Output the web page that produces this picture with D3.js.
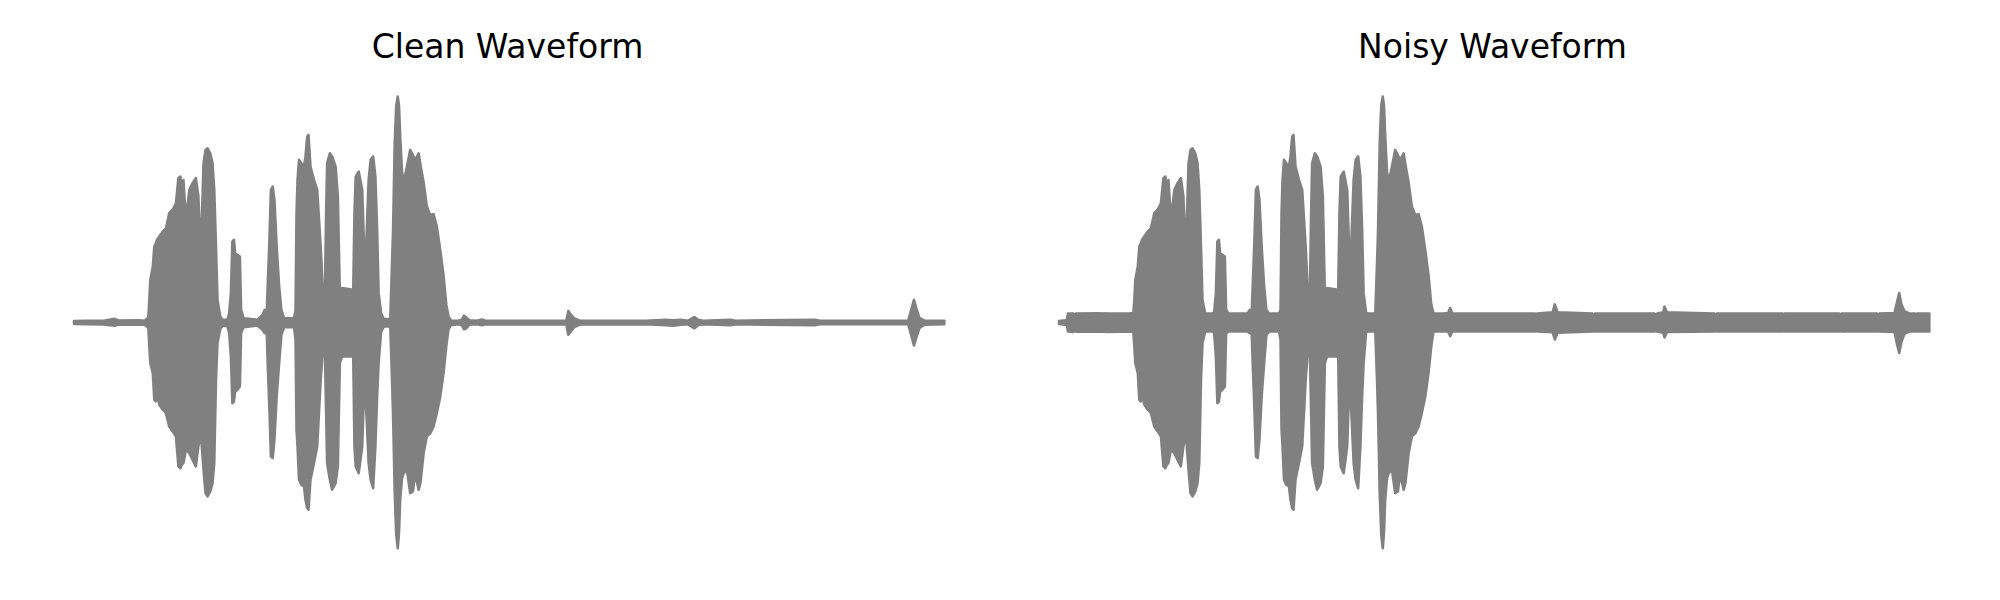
<!DOCTYPE html>
<html>
<head>
<meta charset="utf-8">
<script src="https://cdn.jsdelivr.net/npm/d3@7"></script>
<style>
  body { margin: 0; background: #ffffff; }
  svg { display: block; }
</style>
</head>
<body>
<svg id="chart" width="2000" height="600"></svg>
<script>
// ---------------- data ----------------
const titles = ["Clean Waveform", "Noisy Waveform"];

// envelope of the clean signal: time (s), upper and lower amplitude (normalised)
const cleanTime = [
  0.000, 0.050, 0.120, 0.163, 0.180, 0.262, 0.285,
  0.299, 0.303, 0.307, 0.317, 0.323, 0.329, 0.334, 0.343, 0.357, 0.370, 0.383, 0.397, 0.410,
  0.420, 0.428, 0.433, 0.440, 0.450, 0.464, 0.477, 0.490, 0.500, 0.510, 0.521, 0.529, 0.537,
  0.548, 0.557, 0.564, 0.571, 0.577, 0.588, 0.597, 0.617,
  0.624, 0.631, 0.637, 0.643, 0.648, 0.657, 0.667, 0.672, 0.682, 0.738, 0.758, 0.767, 0.775,
  0.780, 0.786, 0.792, 0.799, 0.806, 0.815, 0.825, 0.834, 0.845, 0.885,
  0.891, 0.895, 0.899, 0.905, 0.914, 0.925, 0.931, 0.938, 0.943, 0.951, 0.965, 0.978, 0.992,
  1.001, 1.009, 1.014, 1.018, 1.029, 1.038, 1.052, 1.061, 1.069, 1.078, 1.123,
  1.128, 1.133, 1.145, 1.159, 1.168, 1.176, 1.185, 1.193, 1.203, 1.212, 1.219, 1.225, 1.235,
  1.246, 1.272,
  1.279, 1.283, 1.290, 1.296, 1.302, 1.307, 1.312, 1.319, 1.326, 1.339, 1.352, 1.363, 1.372,
  1.386, 1.393, 1.406, 1.419, 1.433, 1.446, 1.459, 1.473, 1.486, 1.497, 1.506, 1.516,
  1.545, 1.560, 1.568, 1.575, 1.590, 1.620, 1.640, 1.655, 1.800,
  1.980, 1.988, 1.998, 2.012, 2.035, 2.300, 2.380, 2.410, 2.440, 2.470, 2.495, 2.510, 2.530,
  2.640, 2.660, 2.980, 3.000, 3.355, 3.368, 3.378, 3.388, 3.400, 3.420, 3.500
];
const cleanUpper = [
  0.006, 0.008, 0.008, 0.016, 0.009, 0.010, 0.008,
  0.024, 0.100, 0.189, 0.248, 0.336, 0.351, 0.366, 0.381, 0.403, 0.417, 0.484, 0.499, 0.528,
  0.639, 0.646, 0.572, 0.631, 0.454, 0.587, 0.617, 0.639, 0.560, 0.300, 0.705, 0.764, 0.771,
  0.749, 0.705, 0.587, 0.336, 0.100, 0.027, 0.012, 0.012,
  0.041, 0.130, 0.358, 0.366, 0.307, 0.299, 0.292, 0.056, 0.019, 0.012, 0.034, 0.056, 0.041,
  0.189, 0.366, 0.587, 0.602, 0.543, 0.336, 0.159, 0.056, 0.019, 0.019,
  0.056, 0.484, 0.631, 0.720, 0.705, 0.690, 0.735, 0.823, 0.830, 0.690, 0.631, 0.587, 0.336,
  0.130, 0.130, 0.484, 0.705, 0.749, 0.735, 0.690, 0.558, 0.130, 0.152, 0.145,
  0.484, 0.646, 0.668, 0.587, 0.277, 0.366, 0.631, 0.720, 0.735, 0.646, 0.410, 0.130, 0.041,
  0.015, 0.015,
  0.263, 0.400, 0.800, 0.960, 1.000, 0.960, 0.820, 0.670, 0.620, 0.690, 0.764, 0.740, 0.720,
  0.749, 0.700, 0.620, 0.513, 0.475, 0.480, 0.425, 0.320, 0.210, 0.080, 0.027, 0.009,
  0.008, 0.012, 0.030, 0.025, 0.010, 0.008, 0.013, 0.008, 0.008,
  0.008, 0.051, 0.035, 0.018, 0.008, 0.008, 0.012, 0.010, 0.012, 0.008, 0.024, 0.012, 0.008,
  0.012, 0.008, 0.012, 0.008, 0.008, 0.060, 0.100, 0.060, 0.020, 0.008, 0.008
];
const cleanLower = [
  -0.006, -0.008, -0.009, -0.014, -0.009, -0.010, -0.010,
  -0.025, -0.106, -0.180, -0.224, -0.342, -0.349, -0.313, -0.364, -0.386, -0.401, -0.460, -0.482, -0.504,
  -0.637, -0.645, -0.630, -0.622, -0.563, -0.578, -0.608, -0.637, -0.549, -0.490, -0.652, -0.755, -0.770,
  -0.748, -0.711, -0.622, -0.254, -0.091, -0.029, -0.015, -0.015,
  -0.047, -0.150, -0.357, -0.350, -0.305, -0.298, -0.283, -0.047, -0.021, -0.013, -0.032, -0.047, -0.040,
  -0.209, -0.386, -0.593, -0.600, -0.519, -0.327, -0.180, -0.055, -0.021, -0.021,
  -0.077, -0.475, -0.549, -0.696, -0.718, -0.726, -0.785, -0.822, -0.829, -0.696, -0.622, -0.549, -0.254,
  -0.121, -0.121, -0.401, -0.622, -0.696, -0.740, -0.711, -0.637, -0.180, -0.150, -0.150,
  -0.549, -0.637, -0.667, -0.549, -0.254, -0.401, -0.622, -0.696, -0.733, -0.549, -0.327, -0.180, -0.040,
  -0.018, -0.018,
  -0.254, -0.400, -0.760, -0.940, -0.999, -0.930, -0.780, -0.690, -0.667, -0.652, -0.755, -0.748, -0.667,
  -0.740, -0.711, -0.578, -0.504, -0.490, -0.460, -0.401, -0.327, -0.224, -0.106, -0.029, -0.012,
  -0.008, -0.012, -0.030, -0.028, -0.010, -0.008, -0.012, -0.008, -0.009,
  -0.008, -0.054, -0.040, -0.020, -0.009, -0.008, -0.012, -0.014, -0.010, -0.008, -0.026, -0.012, -0.008,
  -0.012, -0.008, -0.012, -0.008, -0.008, -0.060, -0.102, -0.065, -0.025, -0.010, -0.008
];

// envelope of the noisy signal
const noisyTime = [
  0.000, 0.025, 0.032, 0.036, 0.058, 0.062, 0.068, 0.150, 0.200, 0.285,
  0.299, 0.303, 0.307, 0.317, 0.323, 0.329, 0.334, 0.343, 0.357, 0.370, 0.383, 0.397, 0.410,
  0.420, 0.428, 0.433, 0.440, 0.450, 0.464, 0.477, 0.490, 0.500, 0.510, 0.521, 0.529, 0.537,
  0.548, 0.557, 0.564, 0.571, 0.577, 0.588, 0.597, 0.617,
  0.624, 0.631, 0.637, 0.643, 0.648, 0.657, 0.667, 0.672, 0.682, 0.738, 0.758, 0.767, 0.775,
  0.780, 0.786, 0.792, 0.799, 0.806, 0.815, 0.825, 0.834, 0.845, 0.885,
  0.891, 0.895, 0.899, 0.905, 0.914, 0.925, 0.931, 0.938, 0.943, 0.951, 0.965, 0.978, 0.992,
  1.001, 1.009, 1.014, 1.018, 1.029, 1.038, 1.052, 1.061, 1.069, 1.078, 1.123,
  1.128, 1.133, 1.145, 1.159, 1.168, 1.176, 1.185, 1.193, 1.203, 1.212, 1.219, 1.225, 1.235,
  1.246, 1.272,
  1.279, 1.283, 1.290, 1.296, 1.302, 1.307, 1.312, 1.319, 1.326, 1.339, 1.352, 1.363, 1.372,
  1.386, 1.393, 1.406, 1.419, 1.433, 1.446, 1.459, 1.473, 1.486, 1.497, 1.506, 1.516,
  1.545, 1.565, 1.573, 1.582, 1.800, 1.915, 1.918, 1.922,
  1.985, 1.994, 2.005, 2.145, 2.150, 2.155, 2.395, 2.400, 2.405, 2.430, 2.435, 2.445,
  2.636, 2.640, 2.645, 2.910, 2.913, 2.918, 3.138, 3.142, 3.147, 3.290, 3.294, 3.299,
  3.360, 3.370, 3.379, 3.388, 3.400, 3.420, 3.443, 3.447, 3.451, 3.500
];
const noisyUpper = [
  0.006, 0.010, 0.012, 0.040, 0.040, 0.025, 0.040, 0.041, 0.040, 0.041,
  0.042, 0.100, 0.189, 0.248, 0.336, 0.351, 0.366, 0.381, 0.403, 0.417, 0.484, 0.499, 0.528,
  0.639, 0.646, 0.572, 0.631, 0.454, 0.587, 0.617, 0.639, 0.560, 0.300, 0.705, 0.764, 0.771,
  0.749, 0.705, 0.587, 0.336, 0.100, 0.040, 0.040, 0.040,
  0.045, 0.130, 0.358, 0.366, 0.307, 0.299, 0.292, 0.056, 0.040, 0.040, 0.040, 0.056, 0.045,
  0.189, 0.366, 0.587, 0.602, 0.543, 0.336, 0.159, 0.056, 0.040, 0.040,
  0.056, 0.484, 0.631, 0.720, 0.705, 0.690, 0.735, 0.823, 0.830, 0.690, 0.631, 0.587, 0.336,
  0.130, 0.130, 0.484, 0.705, 0.749, 0.735, 0.690, 0.558, 0.130, 0.152, 0.145,
  0.484, 0.646, 0.668, 0.587, 0.277, 0.366, 0.631, 0.720, 0.735, 0.646, 0.410, 0.130, 0.042,
  0.040, 0.040,
  0.263, 0.400, 0.800, 0.960, 1.000, 0.960, 0.820, 0.670, 0.620, 0.690, 0.764, 0.740, 0.720,
  0.749, 0.700, 0.620, 0.513, 0.475, 0.480, 0.425, 0.320, 0.210, 0.080, 0.040, 0.040,
  0.040, 0.042, 0.064, 0.040, 0.040, 0.040, 0.028, 0.040,
  0.045, 0.080, 0.045, 0.040, 0.028, 0.040, 0.040, 0.028, 0.040, 0.045, 0.070, 0.045,
  0.040, 0.028, 0.040, 0.040, 0.028, 0.040, 0.040, 0.028, 0.040, 0.040, 0.028, 0.040,
  0.042, 0.090, 0.130, 0.080, 0.050, 0.040, 0.040, 0.025, 0.040, 0.040
];
const noisyLower = [
  -0.006, -0.010, -0.012, -0.040, -0.042, -0.025, -0.041, -0.040, -0.042, -0.040,
  -0.042, -0.106, -0.180, -0.224, -0.342, -0.349, -0.313, -0.364, -0.386, -0.401, -0.460, -0.482, -0.504,
  -0.637, -0.645, -0.630, -0.622, -0.563, -0.578, -0.608, -0.637, -0.549, -0.490, -0.652, -0.755, -0.770,
  -0.748, -0.711, -0.622, -0.254, -0.091, -0.040, -0.040, -0.040,
  -0.047, -0.150, -0.357, -0.350, -0.305, -0.298, -0.283, -0.047, -0.040, -0.040, -0.040, -0.047, -0.045,
  -0.209, -0.386, -0.593, -0.600, -0.519, -0.327, -0.180, -0.055, -0.040, -0.040,
  -0.077, -0.475, -0.549, -0.696, -0.718, -0.726, -0.785, -0.822, -0.829, -0.696, -0.622, -0.549, -0.254,
  -0.121, -0.121, -0.401, -0.622, -0.696, -0.740, -0.711, -0.637, -0.180, -0.150, -0.150,
  -0.549, -0.637, -0.667, -0.549, -0.254, -0.401, -0.622, -0.696, -0.733, -0.549, -0.327, -0.180, -0.042,
  -0.040, -0.040,
  -0.254, -0.400, -0.760, -0.940, -0.999, -0.930, -0.780, -0.690, -0.667, -0.652, -0.755, -0.748, -0.667,
  -0.740, -0.711, -0.578, -0.504, -0.490, -0.460, -0.401, -0.327, -0.224, -0.106, -0.040, -0.040,
  -0.040, -0.040, -0.060, -0.040, -0.040, -0.040, -0.030, -0.040,
  -0.043, -0.075, -0.045, -0.040, -0.030, -0.040, -0.040, -0.030, -0.040, -0.045, -0.066, -0.042,
  -0.040, -0.030, -0.040, -0.040, -0.030, -0.040, -0.040, -0.030, -0.040, -0.040, -0.030, -0.040,
  -0.042, -0.095, -0.135, -0.085, -0.050, -0.040, -0.040, -0.025, -0.040, -0.040
];

// ---------------- drawing ----------------
const svg = d3.select("#chart");
const gray = "#808080";

const panels = [
  { title: titles[0], time: cleanTime, upper: cleanUpper, lower: cleanLower, x0: 74, x1: 944.3, cx: 507.5 },
  { title: titles[1], time: noisyTime, upper: noisyUpper, lower: noisyLower, x0: 1059, x1: 1929.3, cx: 1492.5 }
];

const duration = 3.5;
const y = d3.scaleLinear().domain([-1.1, 1.1]).range([571, 74]);

panels.forEach(p => {
  const x = d3.scaleLinear().domain([0, duration]).range([p.x0, p.x1]);

  const pts = p.time.map((t, i) => ({ t: t, hi: p.upper[i], lo: p.lower[i] }));

  const area = d3.area()
    .x(d => x(d.t))
    .y0(d => y(d.lo))
    .y1(d => y(d.hi))
    .curve(d3.curveLinear);

  const g = svg.append("g");
  g.append("path")
    .datum(pts)
    .attr("d", area)
    .attr("fill", gray)
    .attr("stroke", gray)
    .attr("stroke-width", 2.6)
    .attr("stroke-linejoin", "round")
    .attr("stroke-linecap", "round");

  g.append("text")
    .attr("x", p.cx)
    .attr("y", 57.5)
    .attr("text-anchor", "middle")
    .attr("font-family", "DejaVu Sans, sans-serif")
    .attr("font-size", 33)
    .attr("fill", "#000000")
    .text(p.title);
});
</script>
</body>
</html>
